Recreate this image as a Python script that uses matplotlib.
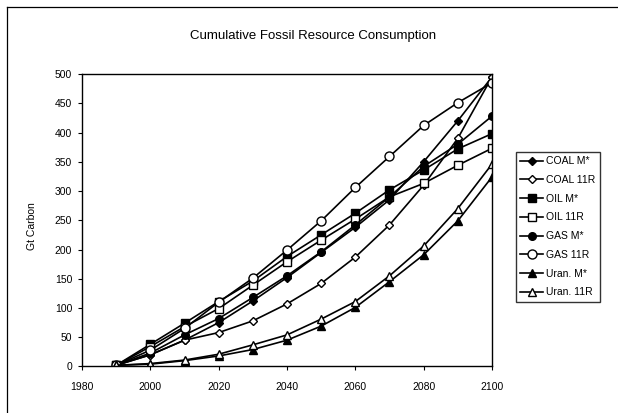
import matplotlib
matplotlib.use("Agg")
import matplotlib.pyplot as plt
from matplotlib.lines import Line2D

plt.rcParams['font.family'] = ['Liberation Sans', 'DejaVu Sans']

years = [1990, 2000, 2010, 2020, 2030, 2040, 2050, 2060, 2070, 2080, 2090, 2100]

coal_m = [2, 20, 45, 75, 112, 152, 195, 238, 285, 350, 420, 495]
coal_11r = [2, 20, 45, 58, 78, 107, 142, 187, 242, 310, 390, 495]
oil_m = [2, 38, 74, 111, 146, 188, 225, 262, 302, 336, 372, 398]
oil_11r = [2, 34, 68, 99, 139, 179, 216, 252, 290, 313, 344, 373]
gas_m = [2, 23, 54, 82, 118, 155, 196, 242, 290, 342, 380, 428]
gas_11r = [2, 28, 65, 110, 151, 199, 249, 306, 359, 412, 451, 485]
uran_m = [2, 4, 10, 18, 29, 45, 69, 101, 145, 191, 249, 324]
uran_11r = [2, 5, 11, 21, 37, 54, 81, 111, 155, 206, 270, 346]

series = [
    ("COAL M*", coal_m, 'D', 'black', 4.5),
    ("COAL 11R", coal_11r, 'D', 'white', 4.5),
    ("OIL M*", oil_m, 's', 'black', 5.5),
    ("OIL 11R", oil_11r, 's', 'white', 5.5),
    ("GAS M*", gas_m, 'o', 'black', 5.5),
    ("GAS 11R", gas_11r, 'o', 'white', 6.5),
    ("Uran. M*", uran_m, '^', 'black', 5.5),
    ("Uran. 11R", uran_11r, '^', 'white', 6),
]

fig = plt.figure(figsize=(6.18, 4.13), dpi=100)
ax = fig.add_axes([0.1327, 0.1126, 0.6634, 0.7082])

for label, vals, mk, face, ms in series:
    ax.plot(years, vals, color='black', linewidth=1.2, marker=mk,
            markerfacecolor=face, markeredgecolor='black', markersize=ms,
            markeredgewidth=1.0, label=label)

ax.set_xlim(1980, 2100)
ax.set_ylim(0, 500)
ax.set_xticks(range(1980, 2101, 20))
ax.set_yticks(range(0, 501, 50))
ax.tick_params(direction='out', length=3, width=0.8, labelsize=7.5, pad=4)
ax.tick_params(axis='x', pad=8)
for s in ax.spines.values():
    s.set_linewidth(1.0)

ax.set_ylabel("Gt Carbon", fontsize=7.5)
ax.yaxis.set_label_coords(-0.11, 0.48)
fig.text(0.507, 0.912, "Cumulative Fossil Resource Consumption",
         ha='center', va='center', fontsize=9.5)

leg = fig.legend(loc='upper left', bbox_to_anchor=(0.835, 0.632),
                 bbox_transform=fig.transFigure, fontsize=7.5, frameon=True,
                 fancybox=False, edgecolor='black', handlelength=2.2,
                 labelspacing=0.84, handletextpad=0.3, borderpad=0.4,
                 borderaxespad=0)
leg.get_frame().set_linewidth(1.0)

# outer chart frame (left and top edges visible in the scan)
fig.add_artist(Line2D([7/618, 7/618], [0, 1 - 7/413], color='black',
                      linewidth=0.9, transform=fig.transFigure))
fig.add_artist(Line2D([7/618, 1], [1 - 7/413, 1 - 7/413], color='black',
                      linewidth=0.9, transform=fig.transFigure))

fig.savefig("out.png", dpi=100)
